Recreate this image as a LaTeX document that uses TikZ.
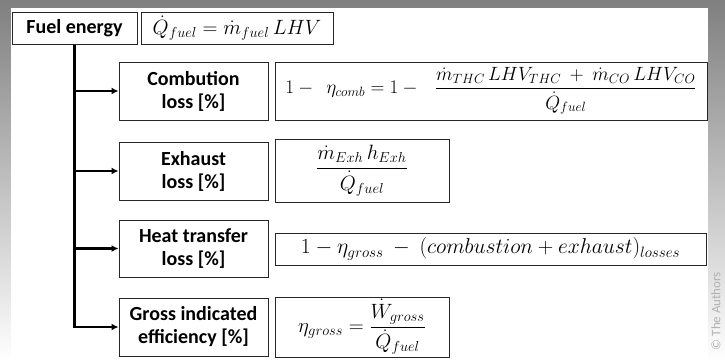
\RequirePackage{fix-cm}
\documentclass[tikz,border=0pt]{standalone}
\usepackage{amsmath}
\usepackage{fontspec}
\setmainfont{Carlito}
\usepackage{tikz}
\usetikzlibrary{arrows.meta}
\definecolor{shade}{gray}{0.96}

\tikzset{
  lbl/.style={draw=black!85, line width=1pt, inner sep=0pt, align=center,
    font=\fontsize{20}{23}\selectfont\bfseries},
  eqn/.style={draw=black!85, line width=1pt, inner sep=0pt,
    font=\fontsize{20.7}{24}\selectfont},
  feed/.style={line width=2.4pt, ->, >={Latex[length=7pt,width=7pt]}},
}

\begin{document}
\begin{tikzpicture}[x=1pt, y=-1pt]
      \useasboundingbox (0,0) rectangle (725,362);
      \fill[shade] (0,0) rectangle (725,362);
      \fill[white] (11,8) rectangle (708,362);

      \node[lbl, minimum width=125pt, minimum height=32pt] (fuel) at (74.5,28) {Fuel energy};
      \node[eqn, minimum width=192pt, minimum height=32pt] (fueleq) at (237,28)
        {$\dot{Q}_{fuel} = \dot{m}_{fuel}\,LHV$};

      \node[lbl, minimum width=149pt, minimum height=58pt] (comb) at (193.5,91) {Combution\\loss [\%]};
      \node[eqn, minimum width=432pt, minimum height=58pt, font=\fontsize{19.2}{23}\selectfont] (combeq) at (491,91)
        {$\displaystyle 1-\ \ \eta_{comb} = 1-\ \ \ \frac{\dot{m}_{THC}\,LHV_{THC}\ +\ \dot{m}_{CO}\,LHV_{CO}}{\dot{Q}_{fuel}}$};

      \node[lbl, minimum width=149pt, minimum height=58pt] (exh) at (193.5,171) {Exhaust\\loss [\%]};
      \node[eqn, minimum width=174pt, minimum height=63pt] (exheq) at (362,170.5)
        {$\displaystyle \frac{\dot{m}_{Exh}\,h_{Exh}}{\dot{Q}_{fuel}}$};

      \node[lbl, minimum width=149pt, minimum height=57pt] (heat) at (193.5,248.5) {Heat transfer\\loss [\%]};
      \node[eqn, minimum width=431pt, minimum height=32pt, font=\fontsize{21.5}{25}\selectfont] (heateq) at (490.5,249)
        {$1-\eta_{gross}\ -\ (combustion + exhaust)_{losses}$};

      \node[lbl, minimum width=149pt, minimum height=58pt] (gross) at (193.5,327) {Gross indicated\\efficiency [\%]};
      \node[eqn, minimum width=174pt, minimum height=60pt] (grosseq) at (362,327)
        {$\displaystyle \eta_{gross} = \frac{\dot{W}_{gross}}{\dot{Q}_{fuel}}$};

      % trunk and branches
      \draw[line width=2.4pt] (fuel.south) -- (fuel.south |- gross.west);
      \draw[feed] (fuel.south |- comb.west) -- (comb.west);
      \draw[feed] (fuel.south |- exh.west) -- (exh.west);
      \draw[feed] (fuel.south |- heat.west) -- (heat.west);
      \draw[feed] ([xshift=-1.2pt]fuel.south |- gross.west) -- (gross.west);

      \node[rotate=90, text=gray!60, font=\fontsize{13}{15}\selectfont] (credit) at (716,311) {\textcopyright\ The Authors};
\end{tikzpicture}
\end{document}
